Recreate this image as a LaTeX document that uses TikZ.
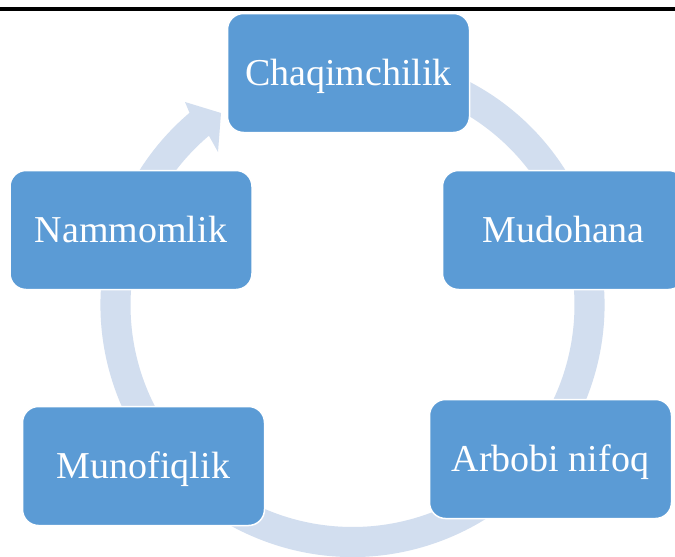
\documentclass[tikz,border=0pt]{standalone}
\usepackage{fontspec}
\setmainfont{Liberation Serif}
\usetikzlibrary{calc}
\definecolor{boxblue}{HTML}{5B9BD5}
\definecolor{ringblue}{HTML}{D2DEEF}
\begin{document}
\begin{tikzpicture}[x=1pt,y=-1pt,
  cbox/.style={fill=boxblue,draw=white,line width=1.5pt,rounded corners=16pt,
    minimum width=242pt,minimum height=119pt,text=white,
    font=\fontsize{38}{44}\selectfont,inner sep=0pt,
    text height=30pt,text depth=6pt},
  ring/.style={fill=ringblue}]
\useasboundingbox (0,0) rectangle (675,557);
\fill[white] (0,0) rectangle (675,557);
\begin{scope}
\clip (0,0) rectangle (675,557);
% top rule
\fill[black] (0,7.3) rectangle (675,10.7);
% circular arrow
\coordinate (c) at (352.5,305);
\fill[ring] ($(c)+(70:252pt)$) arc[start angle=70,end angle=-229.7,radius=252pt]
  -- (185,102) -- (221,113) -- (218,152)
  -- ($(c)+(-229.7:222pt)$) arc[start angle=-229.7,end angle=70,radius=222pt] -- cycle;
% boxes
\node[cbox] (chaq) at (348.5,73) {Chaqimchilik};
\node[cbox] (mud) at (563.5,230) {Mudohana};
\node[cbox] (arb) at (550.5,459) {Arbobi nifoq};
\node[cbox] (mun) at (143.5,466) {Munofiqlik};
\node[cbox] (nam) at (131,230) {Nammomlik};
\end{scope}
\end{tikzpicture}
\end{document}
